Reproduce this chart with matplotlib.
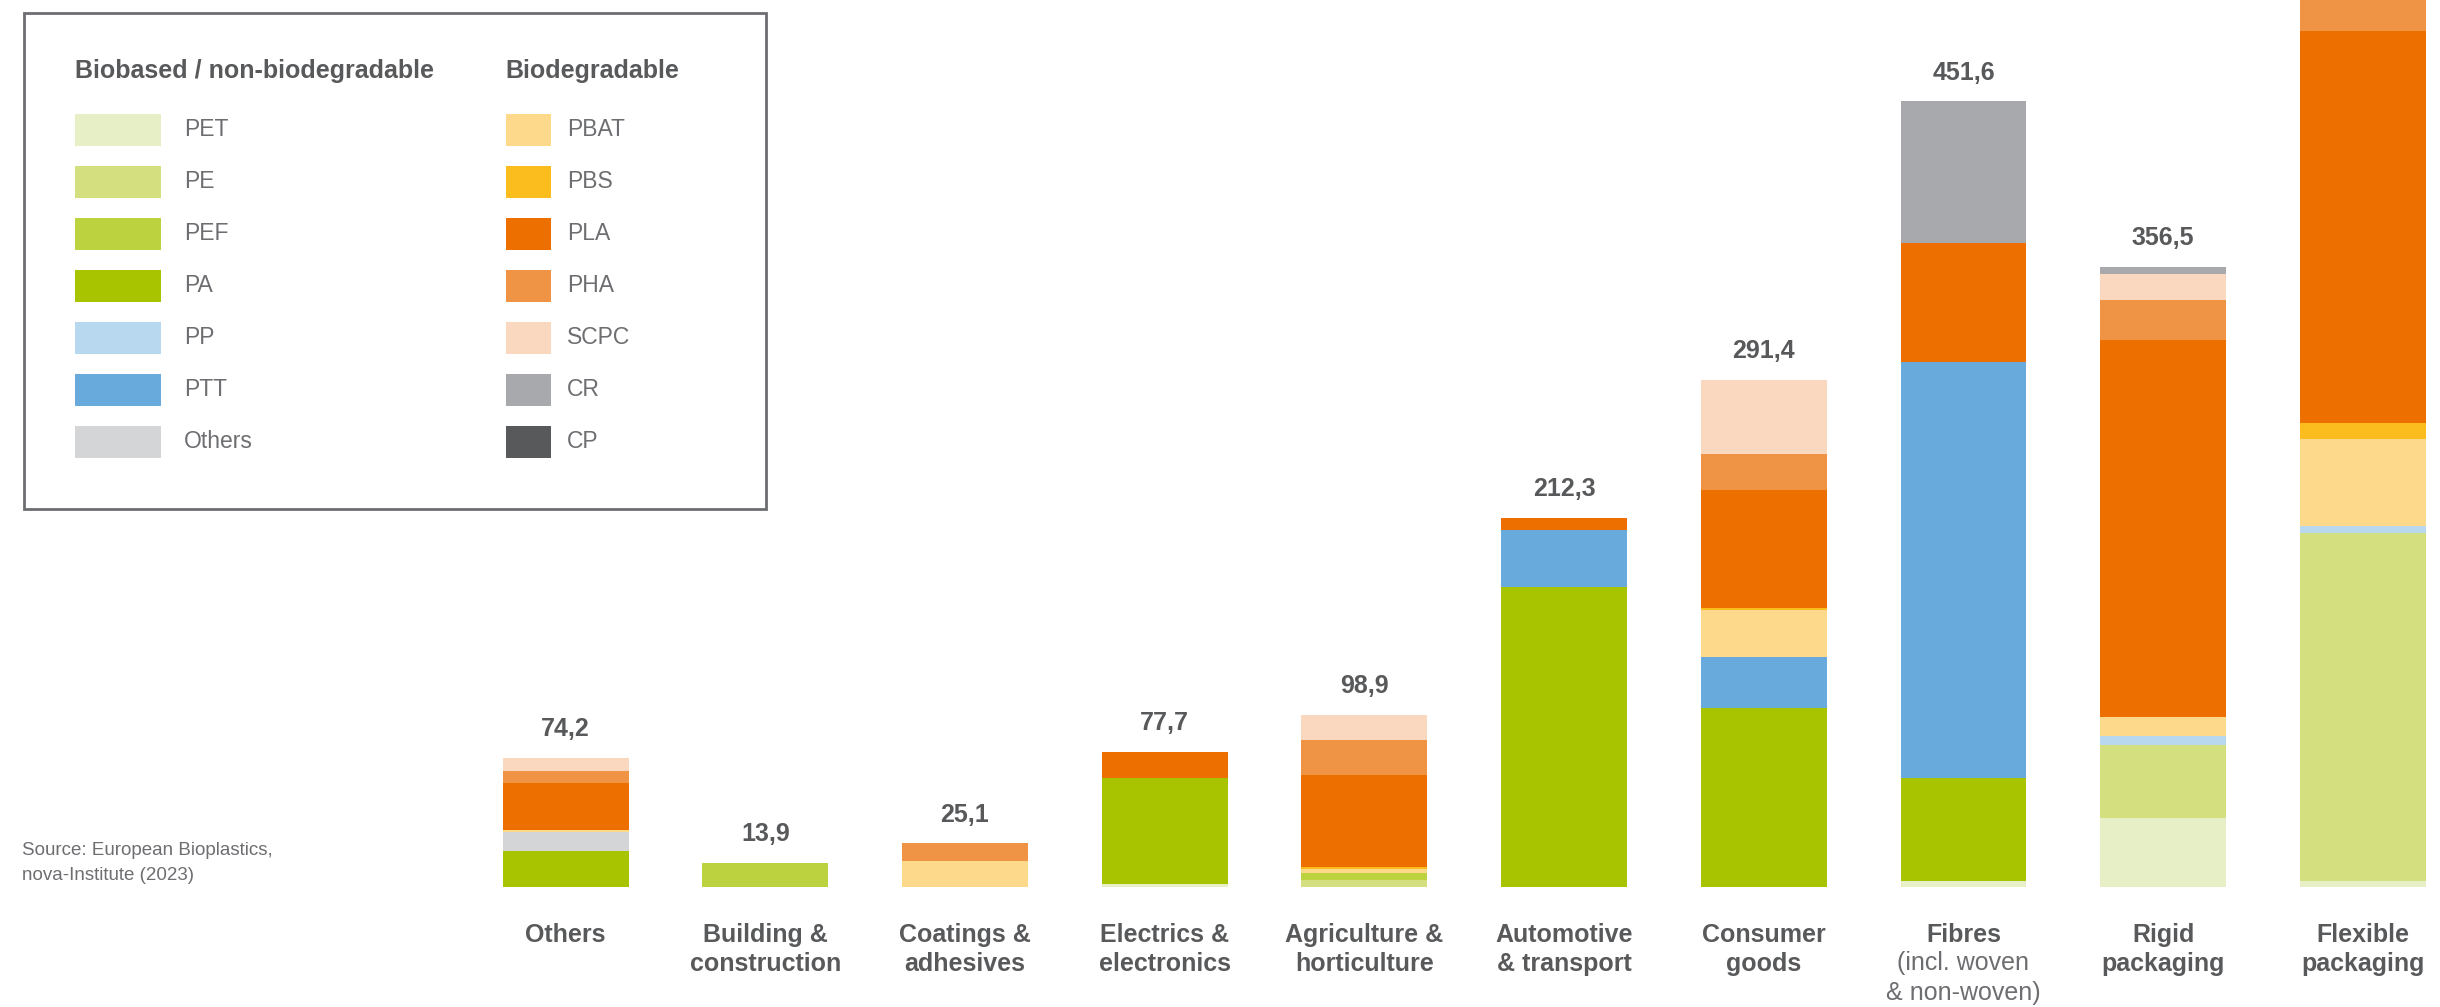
import matplotlib
matplotlib.use("Agg")
import matplotlib.pyplot as plt
from matplotlib.patches import Rectangle
import numpy as np

plt.rcParams['font.family'] = ['Liberation Sans', 'DejaVu Sans']

# market segments (left to right)
categories = ["Others", "Building &\nconstruction", "Coatings &\nadhesives",
              "Electrics &\nelectronics", "Agriculture &\nhorticulture",
              "Automotive\n& transport", "Consumer\ngoods", "Fibres",
              "Rigid\npackaging", "Flexible\npackaging"]
fibres_note = "(incl. woven\n& non-woven)"
totals = ["74,2", "13,9", "25,1", "77,7", "98,9", "212,3", "291,4", "451,6", "356,5", None]

# capacities per material (1000 t)
PET    = [0, 0, 0, 1.9, 0, 0, 0, 3.7, 39.4, 3.5]
PE     = [0, 0, 0, 0, 3.8, 0, 0, 0, 42.4, 200.0]
PEF    = [0, 13.9, 0, 0, 4.3, 0, 0, 0, 0, 0]
PA     = [20.6, 0, 0, 61.0, 0, 172.5, 102.9, 59.2, 0, 0]
PP     = [0, 0, 0, 0, 0, 0, 0, 0, 4.8, 3.7]
PTT    = [0, 0, 0, 0, 0, 32.8, 29.3, 238.7, 0, 0]
OTHERS = [11.1, 0, 0, 0, 0, 0, 0, 0, 0, 0]
PBAT   = [1.3, 0, 15.1, 0, 2.2, 0, 27.0, 0, 11.1, 50.2]
PBS    = [0, 0, 0, 0, 1.0, 0, 1.0, 0, 0, 9.3]
PLA    = [26.8, 0, 0, 14.8, 53.3, 7.0, 67.9, 68.5, 216.5, 225.0]
PHA    = [7.1, 0, 10.0, 0, 19.8, 0, 20.9, 0, 23.2, 40.0]
SCPC   = [7.3, 0, 0, 0, 14.5, 0, 42.4, 0, 14.7, 15.0]
CR     = [0, 0, 0, 0, 0, 0, 0, 81.5, 4.4, 20.0]
CP     = [0, 0, 0, 0, 0, 0, 0, 0, 0, 0]

nonbio_names = ["PET", "PE", "PEF", "PA", "PP", "PTT", "Others"]
bio_names = ["PBAT", "PBS", "PLA", "PHA", "SCPC", "CR", "CP"]
series = [PET, PE, PEF, PA, PP, PTT, OTHERS, PBAT, PBS, PLA, PHA, SCPC, CR, CP]
colors = ["#e6efc6", "#d4e07f", "#bcd23e", "#a8c300", "#b7d8ee", "#67aadb", "#d4d5d7",
          "#fcd98b", "#fbbc1e", "#ec6f00", "#ef9444", "#fad8bf", "#a7a9ac", "#58595b"]

W, H = 2440, 1007
fig = plt.figure(figsize=(W / 100, H / 100), dpi=100)
ax = fig.add_axes([0, 0, 1, 1])

x = np.arange(len(categories))
bottom = np.zeros(len(categories))
for vals, col in zip(series, colors):
    vals = np.array(vals, dtype=float)
    ax.bar(x, vals, 0.63, bottom=bottom, color=col, linewidth=0)
    bottom += vals

ax.set_xlim(-565.6 / 199.7, (W - 565.6) / 199.7)
ax.set_ylim(-(H - 887) / 1.74, 887 / 1.74)
ax.axis("off")

grey = "#58595b"
for i, t in enumerate(totals):
    if t is None:
        continue
    ax.annotate(t, (x[i], bottom[i]), xytext=(0, 12), textcoords="offset points",
                ha="center", va="bottom", fontsize=18, fontweight="bold", color=grey)

for i, c in enumerate(categories):
    ax.text(x[i], -20.5, c, ha="center", va="top", fontsize=18, fontweight="bold",
            color=grey, linespacing=1.3)
ax.text(x[7], -37, fibres_note, ha="center", va="top", fontsize=18,
        color="#6d6e71", linespacing=1.3)


def fx(px):
    return px / W


def fy(py):
    return 1 - py / H


# legend box
fig.patches.append(Rectangle((fx(24), fy(509)), fx(766) - fx(24), fy(13) - fy(509),
                             transform=fig.transFigure, fill=False,
                             edgecolor="#6d6e71", linewidth=2))
fig.text(fx(75), fy(71), "Biobased / non-biodegradable", fontsize=18, fontweight="bold",
         color=grey, va="center")
fig.text(fx(505), fy(71), "Biodegradable", fontsize=18, fontweight="bold",
         color=grey, va="center")
for j, name in enumerate(nonbio_names):
    yc = 130 + j * 52
    fig.patches.append(Rectangle((fx(75), fy(yc + 16)), fx(86), fy(0) - fy(32),
                                 transform=fig.transFigure, color=colors[j], linewidth=0))
    fig.text(fx(184), fy(yc), name, fontsize=16.5, color="#6d6e71", va="center")
for j, name in enumerate(bio_names):
    yc = 130 + j * 52
    fig.patches.append(Rectangle((fx(506), fy(yc + 16)), fx(45), fy(0) - fy(32),
                                 transform=fig.transFigure, color=colors[7 + j], linewidth=0))
    fig.text(fx(567), fy(yc), name, fontsize=16.5, color="#6d6e71", va="center")

fig.text(fx(22), fy(863), "Source: European Bioplastics,\nnova-Institute (2023)",
         fontsize=13.5, color="#6d6e71", va="center", linespacing=1.65)

fig.savefig("out.png", dpi=100)
